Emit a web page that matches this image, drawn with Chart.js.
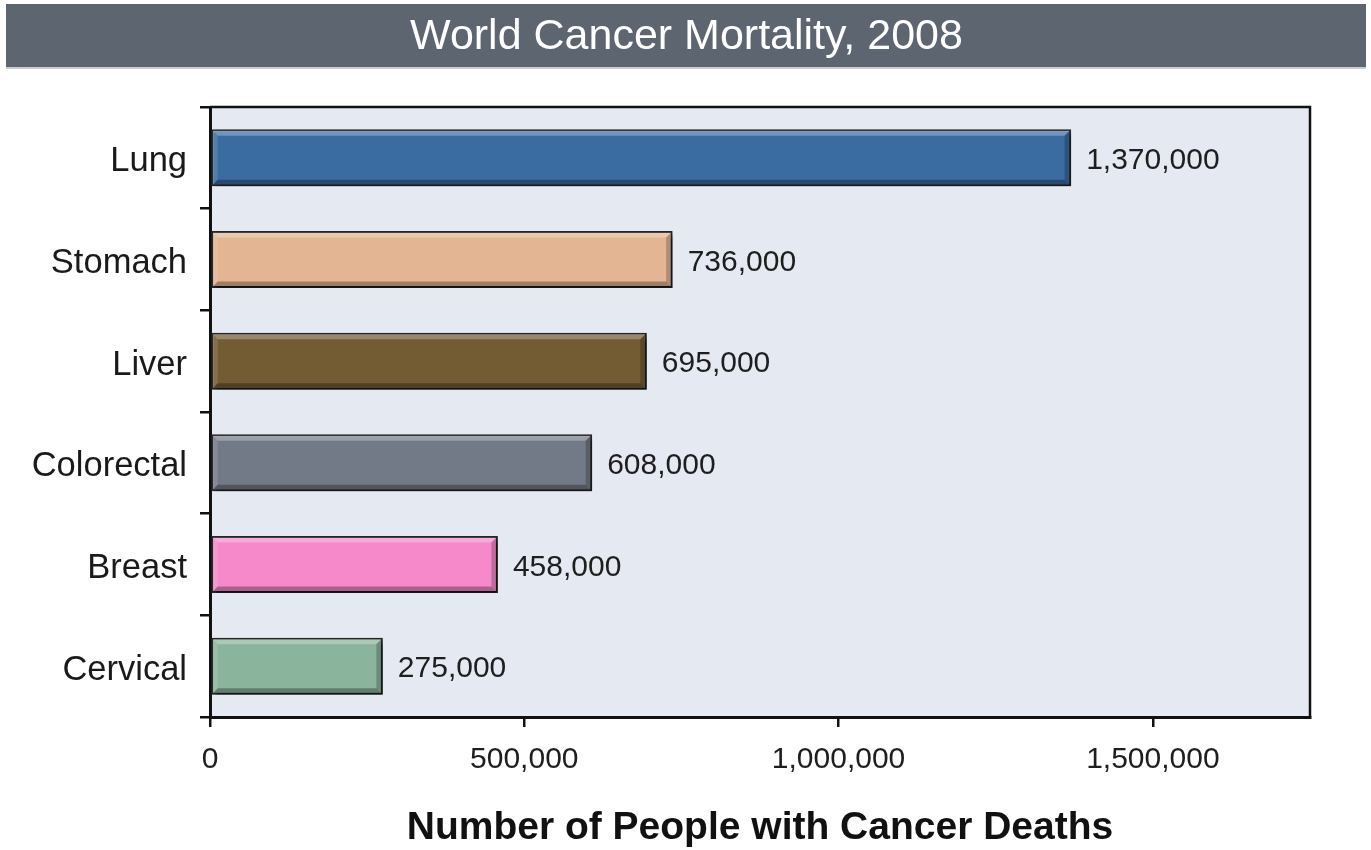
<!DOCTYPE html>
<html>
<head>
<meta charset="utf-8">
<title>World Cancer Mortality, 2008</title>
<script src="https://cdn.jsdelivr.net/npm/chart.js@4/dist/chart.umd.min.js"></script>
<style>
  html, body { margin: 0; padding: 0; background: #ffffff; }
  #wrap { width: 1371px; height: 850px; position: relative; }
</style>
</head>
<body>
<div id="wrap"><canvas id="chart" width="1371" height="850"></canvas></div>
<script>
// Cancer sites and number of deaths worldwide, 2008
const sites = ['Lung', 'Stomach', 'Liver', 'Colorectal', 'Breast', 'Cervical'];
const deaths = [1370000, 736000, 695000, 608000, 458000, 275000];
const barColors = ['#3a6ba1', '#e3b592', '#735b34', '#737a87', '#f589ca', '#8bb49c'];
const xTicks = [0, 500000, 1000000, 1500000];
const xMax = 1750000;
const chartTitle = 'World Cancer Mortality, 2008';
const axisTitle = 'Number of People with Cancer Deaths';

const FONT = '"Liberation Sans", Arial, Helvetica, sans-serif';

function withCommas(n) {
  return String(Math.round(n)).replace(/\B(?=(\d{3})+(?!\d))/g, ',');
}

// Page background, header band with the title, and plot background
const backdrop = {
  id: 'backdrop',
  beforeDraw(chart) {
    const { ctx, chartArea: a, width, height } = chart;
    ctx.save();
    ctx.fillStyle = '#ffffff';
    ctx.fillRect(0, 0, width, height);
    // header band
    ctx.fillStyle = '#5c6570';
    ctx.fillRect(6, 4, width - 11, 63);
    ctx.fillStyle = '#c9ccd1';
    ctx.fillRect(6, 67, width - 11, 2);
    ctx.fillStyle = '#ffffff';
    ctx.font = '43px ' + FONT;
    ctx.textAlign = 'center';
    ctx.textBaseline = 'middle';
    ctx.fillText(chartTitle, width / 2 + 1, 37);
    // plot area
    ctx.fillStyle = '#e5e9f1';
    ctx.fillRect(a.left, a.top, a.right - a.left, a.bottom - a.top);
    ctx.restore();
  },
  afterDraw(chart) {
    const { ctx, chartArea: a } = chart;
    ctx.save();
    ctx.strokeStyle = '#111111';
    ctx.lineWidth = 2.5;
    ctx.beginPath();
    ctx.moveTo(a.left, a.top);
    ctx.lineTo(a.right, a.top);
    ctx.lineTo(a.right, a.bottom);
    ctx.stroke();
    ctx.restore();
  }
};

// Drop shadow under the bars, bevelled edges and value labels
const bevelBars = {
  id: 'bevelBars',
  beforeDatasetsDraw(chart) {
    const ctx = chart.ctx;
    ctx.save();
    ctx.shadowColor = 'rgba(0,0,0,0.5)';
    ctx.shadowOffsetX = 3;
    ctx.shadowOffsetY = 4;
    ctx.shadowBlur = 5;
  },
  afterDatasetsDraw(chart) {
    const ctx = chart.ctx;
    ctx.restore();
    const meta = chart.getDatasetMeta(0);
    const values = chart.data.datasets[0].data;
    ctx.save();
    meta.data.forEach((bar, i) => {
      const p = bar.getProps(['x', 'y', 'base', 'height'], true);
      const l = Math.min(p.base, p.x) + 1.5;
      const r = Math.max(p.base, p.x) - 1.5;
      const t = p.y - p.height / 2 + 1.5;
      const b = p.y + p.height / 2 - 1.5;
      const d = 5;
      // top highlight
      ctx.fillStyle = 'rgba(255,255,255,0.28)';
      ctx.beginPath();
      ctx.moveTo(l, t); ctx.lineTo(r, t); ctx.lineTo(r - d, t + d); ctx.lineTo(l + d, t + d);
      ctx.closePath(); ctx.fill();
      // left highlight
      ctx.fillStyle = 'rgba(255,255,255,0.12)';
      ctx.beginPath();
      ctx.moveTo(l, t); ctx.lineTo(l + d, t + d); ctx.lineTo(l + d, b - d); ctx.lineTo(l, b);
      ctx.closePath(); ctx.fill();
      // bottom shade
      ctx.fillStyle = 'rgba(0,0,0,0.3)';
      ctx.beginPath();
      ctx.moveTo(l, b); ctx.lineTo(r, b); ctx.lineTo(r - d, b - d); ctx.lineTo(l + d, b - d);
      ctx.closePath(); ctx.fill();
      // right shade
      ctx.fillStyle = 'rgba(0,0,0,0.22)';
      ctx.beginPath();
      ctx.moveTo(r, t); ctx.lineTo(r, b); ctx.lineTo(r - d, b - d); ctx.lineTo(r - d, t + d);
      ctx.closePath(); ctx.fill();

      // value label
      ctx.fillStyle = '#1e1e1e';
      ctx.font = '30px ' + FONT;
      ctx.textAlign = 'left';
      ctx.textBaseline = 'middle';
      ctx.fillText(withCommas(values[i]), Math.max(p.base, p.x) + 15, p.y + 3);
    });
    ctx.restore();
  }
};

new Chart(document.getElementById('chart'), {
  type: 'bar',
  data: {
    labels: sites,
    datasets: [{
      data: deaths,
      backgroundColor: barColors,
      borderColor: '#262626',
      borderWidth: 2,
      borderSkipped: false,
      barPercentage: 0.56,
      categoryPercentage: 1.0
    }]
  },
  options: {
    indexAxis: 'y',
    responsive: false,
    animation: false,
    layout: { padding: { left: 0, right: 61, top: 107, bottom: 0 } },
    plugins: {
      legend: { display: false },
      tooltip: { enabled: false },
      title: { display: false }
    },
    scales: {
      x: {
        type: 'linear',
        min: 0,
        max: xMax,
        afterFit(scale) { scale.height = 133; },
        afterBuildTicks(scale) { scale.ticks = xTicks.map(v => ({ value: v })); },
        ticks: {
          includeBounds: false,
          color: '#1e1e1e',
          font: { family: FONT, size: 30 },
          padding: 15,
          maxRotation: 0,
          callback: v => withCommas(v)
        },
        grid: {
          drawOnChartArea: false,
          drawTicks: true,
          tickLength: 10,
          color: '#111111',
          lineWidth: 2.5
        },
        border: { display: true, color: '#111111', width: 3 },
        title: {
          display: true,
          text: axisTitle,
          color: '#111111',
          font: { family: FONT, size: 39, weight: 'bold', lineHeight: 1.1 },
          padding: { top: 0, bottom: 0 }
        }
      },
      y: {
        afterFit(scale) { scale.width = 210; },
        ticks: {
          color: '#1a1a1a',
          font: { family: FONT, size: 34.5 },
          padding: 13,
          labelOffset: 4
        },
        grid: {
          offset: true,
          drawOnChartArea: false,
          drawTicks: true,
          tickLength: 10,
          color: '#111111',
          lineWidth: 2.5
        },
        border: { display: true, color: '#111111', width: 3 }
      }
    }
  },
  plugins: [backdrop, bevelBars]
});
</script>
</body>
</html>
